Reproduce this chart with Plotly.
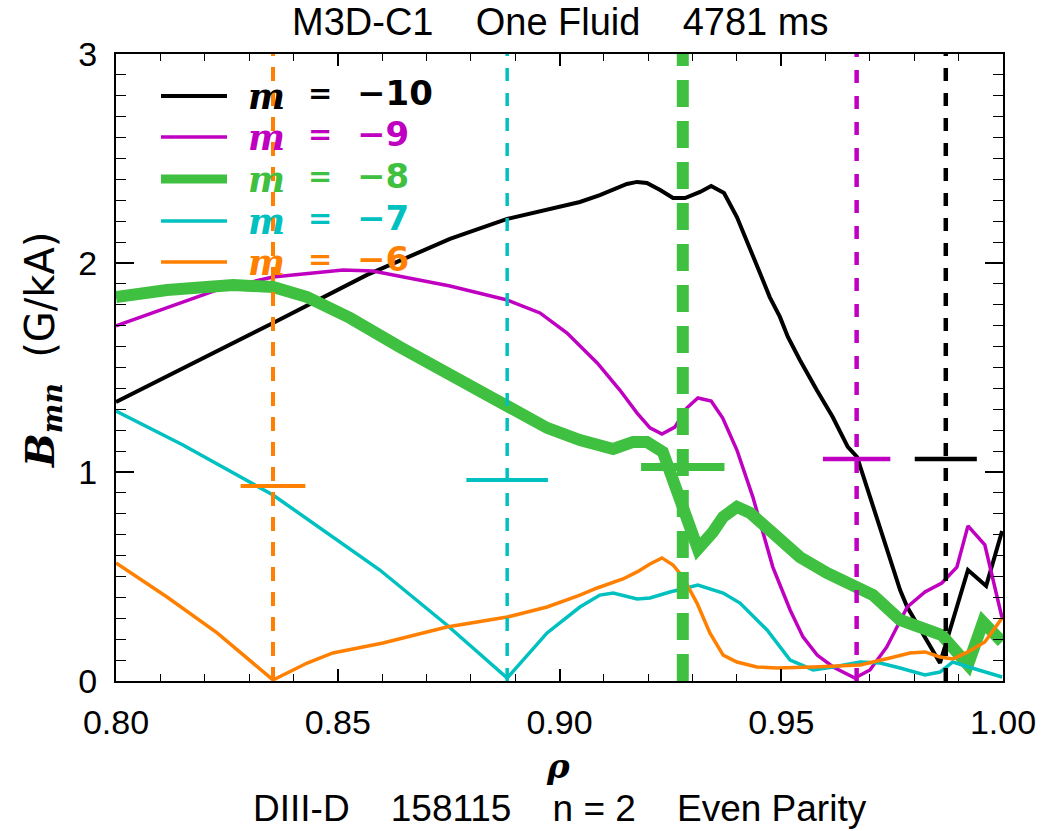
import plotly.graph_objects as go

# ---- data -------------------------------------------------------------
m_values = [-10, -9, -8, -7, -6]
colors = ["#000000", "#c000c0", "#40c040", "#00c0c0", "#ff8000"]

rho_m10 = [0.8000, 0.8189, 0.8354, 0.8566, 0.8753, 0.8882, 0.9046, 0.9091, 0.9121,
           0.9152, 0.9175, 0.9197, 0.9227, 0.9256, 0.9283, 0.9317, 0.9342, 0.9371,
           0.9400, 0.9429, 0.9452, 0.9474, 0.9497, 0.9515, 0.9542, 0.9580, 0.9616,
           0.9650, 0.9671, 0.9693, 0.9768, 0.9784, 0.9858, 0.9921, 0.9962, 0.9998]
b_m10 = [1.335, 1.536, 1.713, 1.943, 2.115, 2.211, 2.292, 2.325, 2.349,
         2.378, 2.388, 2.383, 2.349, 2.311, 2.311, 2.340, 2.368, 2.335,
         2.220, 2.077, 1.952, 1.837, 1.742, 1.646, 1.536, 1.392, 1.263,
         1.120, 1.072, 0.928, 0.435, 0.354, 0.086, 0.531, 0.455, 0.718]

rho_m9 = [0.8000, 0.8228, 0.8354, 0.8512, 0.8579, 0.8753, 0.8882, 0.8956, 0.9017,
          0.9085, 0.9136, 0.9175, 0.9204, 0.9231, 0.9260, 0.9287, 0.9312, 0.9342,
          0.9368, 0.9400, 0.9436, 0.9481, 0.9520, 0.9549, 0.9581, 0.9617, 0.9666,
          0.9700, 0.9738, 0.9784, 0.9824, 0.9862, 0.9896, 0.9921, 0.9959, 0.9998]
b_m9 = [1.699, 1.871, 1.933, 1.967, 1.962, 1.890, 1.823, 1.761, 1.665,
        1.522, 1.392, 1.282, 1.211, 1.182, 1.215, 1.306, 1.354, 1.340,
        1.258, 1.105, 0.880, 0.545, 0.340, 0.211, 0.124, 0.067, 0.014,
        0.053, 0.163, 0.354, 0.426, 0.469, 0.545, 0.742, 0.651, 0.301]

rho_m8 = [0.8000, 0.8115, 0.8264, 0.8354, 0.8431, 0.8528, 0.8640, 0.8753, 0.8882,
          0.8972, 0.9046, 0.9121, 0.9166, 0.9197, 0.9233, 0.9256, 0.9278, 0.9299,
          0.9312, 0.9346, 0.9369, 0.9400, 0.9430, 0.9481, 0.9542, 0.9603, 0.9678,
          0.9707, 0.9768, 0.9829, 0.9862, 0.9921, 0.9955, 0.9998]
b_m8 = [1.837, 1.871, 1.895, 1.885, 1.837, 1.737, 1.598, 1.464, 1.306,
        1.211, 1.153, 1.110, 1.144, 1.144, 1.096, 0.962, 0.804, 0.689,
        0.632, 0.713, 0.785, 0.833, 0.804, 0.708, 0.593, 0.517, 0.450,
        0.411, 0.292, 0.244, 0.220, 0.077, 0.282, 0.187]

rho_m7 = [0.8000, 0.8151, 0.8354, 0.8489, 0.8595, 0.8746, 0.8882, 0.8972, 0.9046,
          0.9091, 0.9121, 0.9175, 0.9204, 0.9249, 0.9312, 0.9369, 0.9407, 0.9468,
          0.9520, 0.9572, 0.9617, 0.9678, 0.9723, 0.9768, 0.9824, 0.9858, 0.9887,
          0.9930, 0.9959, 0.9998]
b_m7 = [1.292, 1.129, 0.890, 0.689, 0.531, 0.268, 0.014, 0.230, 0.354,
        0.411, 0.421, 0.392, 0.397, 0.426, 0.459, 0.421, 0.373, 0.244,
        0.100, 0.053, 0.067, 0.091, 0.086, 0.062, 0.029, 0.043, 0.091,
        0.062, 0.043, 0.019]

rho_m6 = [0.8000, 0.8115, 0.8228, 0.8354, 0.8431, 0.8489, 0.8602, 0.8746, 0.8882,
          0.8972, 0.9046, 0.9085, 0.9143, 0.9175, 0.9204, 0.9231, 0.9256, 0.9278,
          0.9310, 0.9339, 0.9369, 0.9400, 0.9445, 0.9490, 0.9572, 0.9678, 0.9745,
          0.9790, 0.9824, 0.9858, 0.9887, 0.9921, 0.9959, 0.9998]
b_m6 = [0.565, 0.402, 0.230, 0.005, 0.086, 0.134, 0.182, 0.258, 0.306,
        0.354, 0.411, 0.445, 0.488, 0.522, 0.560, 0.589, 0.555, 0.498,
        0.373, 0.230, 0.124, 0.091, 0.067, 0.062, 0.067, 0.077, 0.110,
        0.134, 0.139, 0.115, 0.105, 0.139, 0.187, 0.301]

# resonant surface locations and island half-widths (same order as m_values)
rho_res = [0.9871, 0.9670, 0.9278, 0.8882, 0.8354]
b_island = [1.062, 1.062, 1.024, 0.962, 0.933]
half_width = [0.0070, 0.0076, 0.0094, 0.0092, 0.0073]

x_ticks = [0.80, 0.85, 0.90, 0.95, 1.00]
x_ticklabels = ["0.80", "0.85", "0.90", "0.95", "1.00"]
y_ticks = [0, 1, 2, 3]

# ---- styling ----------------------------------------------------------
curve_width = [4, 3.5, 12, 3.5, 3.5]
res_width = [4.5, 4.5, 12, 3.5, 4]
res_dash = ["13px,12px", "13px,13px", "27px,14px", "13px,12px", "14px,11px"]
bar_width = [4.5, 4.5, 8, 4, 4]

sans = "Liberation Sans, Arial, sans-serif"

series = [(rho_m10, b_m10), (rho_m9, b_m9), (rho_m8, b_m8),
          (rho_m7, b_m7), (rho_m6, b_m6)]

fig = go.Figure()

for (rx, by), c, w, m in zip(series, colors, curve_width, m_values):
    fig.add_trace(go.Scatter(x=rx, y=by, mode="lines", name=f"m = {m}",
                             line=dict(color=c, width=w), showlegend=False))

# dashed vertical lines at the resonant surfaces
for r, c, w, d in zip(rho_res, colors, res_width, res_dash):
    fig.add_trace(go.Scatter(x=[r, r], y=[0, 3], mode="lines",
                             line=dict(color=c, width=w, dash=d),
                             showlegend=False, hoverinfo="skip"))

# island-width bars
for r, b, hw, c, w in zip(rho_res, b_island, half_width, colors, bar_width):
    fig.add_trace(go.Scatter(x=[r - hw, r + hw], y=[b, b], mode="lines",
                             line=dict(color=c, width=w),
                             showlegend=False, hoverinfo="skip"))

# ---- hand-placed legend ----------------------------------------------
W, H = 1055, 831
L, R, T, B = 116, 1003, 54, 681
pw, ph = R - L, B - T


def px(x):
    return (x - L) / pw


def py(y):
    return (B - y) / ph


legend_rows = [96, 137, 179, 221, 262]
legend_line_w = [4, 3.5, 9, 3.5, 3.5]
shapes = []
annotations = []
for row, c, lw, m in zip(legend_rows, colors, legend_line_w, m_values):
    shapes.append(dict(type="line", xref="paper", yref="paper",
                       x0=px(161), x1=px(227), y0=py(row), y1=py(row),
                       line=dict(color=c, width=lw)))
    annotations.append(dict(xref="paper", yref="paper", x=px(246), y=py(row),
                            xanchor="left", yanchor="middle", showarrow=False,
                            text="<b><i>m</i></b>",
                            font=dict(family="DejaVu Serif", size=35, color=c)))
    annotations.append(dict(xref="paper", yref="paper", x=px(320), y=py(row - 3),
                            xanchor="center", yanchor="middle", showarrow=False,
                            text="<b>=</b>",
                            font=dict(family="DejaVu Sans", size=29, color=c)))
    annotations.append(dict(xref="paper", yref="paper", x=px(355), y=py(row - 3),
                            xanchor="left", yanchor="middle", showarrow=False,
                            text=f"<b>\u2212{abs(m)}</b>",
                            font=dict(family="DejaVu Sans", size=34, color=c)))

# titles
annotations.append(dict(xref="paper", yref="paper", x=0.5, y=py(22),
                        xanchor="center", yanchor="middle", showarrow=False,
                        text="M3D-C1    One Fluid    4781 ms",
                        font=dict(family=sans, size=38, color="black")))
annotations.append(dict(xref="paper", yref="paper", x=0.5, y=py(808),
                        xanchor="center", yanchor="middle", showarrow=False,
                        text="DIII-D    158115    n = 2    Even Parity",
                        font=dict(family=sans, size=37, color="black")))
annotations.append(dict(xref="paper", yref="paper", x=px(558), y=py(766),
                        xanchor="center", yanchor="middle", showarrow=False,
                        text="<b><i>\u03c1</i></b>",
                        font=dict(family="DejaVu Serif", size=34, color="black")))
annotations.append(dict(xref="paper", yref="paper", x=px(42), y=py(350),
                        xanchor="center", yanchor="middle", showarrow=False,
                        textangle=-90,
                        text="<b><i>B</i></b><sub><b><i>mn</i></b></sub>  "
                             "<span style='font-family:DejaVu Sans'>(G/kA)</span>",
                        font=dict(family="DejaVu Serif", size=40, color="black")))

axis_common = dict(showline=True, linecolor="black", linewidth=2, mirror="ticks",
                   ticks="inside", tickcolor="black", showgrid=False, zeroline=False)

fig.update_layout(
    width=W, height=H,
    margin=dict(l=L, r=W - R, t=T, b=H - B, pad=0),
    paper_bgcolor="white", plot_bgcolor="white",
    showlegend=False,
    xaxis=dict(range=[0.8, 1.0], tickvals=x_ticks, ticktext=x_ticklabels,
               ticklen=12, tickwidth=1.5,
               minor=dict(dtick=0.01, ticklen=7, tickwidth=1.2, ticks="inside",
                          tickcolor="black", showgrid=False),
               tickfont=dict(family=sans, size=34, color="black"),
               ticklabelstandoff=10, **axis_common),
    yaxis=dict(range=[0, 3], tickvals=y_ticks,
               ticklen=18, tickwidth=1.5,
               minor=dict(dtick=0.1, ticklen=10, tickwidth=1.2, ticks="inside",
                          tickcolor="black", showgrid=False),
               tickfont=dict(family=sans, size=34, color="black"),
               ticklabelstandoff=10, **axis_common),
    shapes=shapes,
    annotations=annotations,
)

fig.write_html("out.html")
